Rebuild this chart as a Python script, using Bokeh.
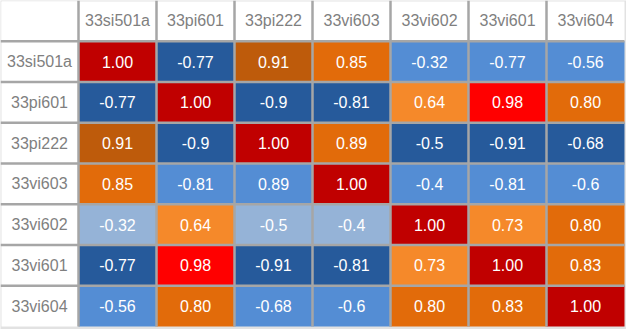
from bokeh.plotting import figure
from bokeh.models import Range1d, ColumnDataSource
from bokeh.core.properties import value
from bokeh.embed import file_html
from bokeh.resources import INLINE

labels = ["33si501a", "33pi601", "33pi222", "33vi603", "33vi602", "33vi601", "33vi604"]

corr = [
    [1.00, -0.77, 0.91, 0.85, -0.32, -0.77, -0.56],
    [-0.77, 1.00, -0.9, -0.81, 0.64, 0.98, 0.80],
    [0.91, -0.9, 1.00, 0.89, -0.5, -0.91, -0.68],
    [0.85, -0.81, 0.89, 1.00, -0.4, -0.81, -0.6],
    [-0.32, 0.64, -0.5, -0.4, 1.00, 0.73, 0.80],
    [-0.77, 0.98, -0.91, -0.81, 0.73, 1.00, 0.83],
    [-0.56, 0.80, -0.68, -0.6, 0.80, 0.83, 1.00],
]

# colour class of each cell as shown in the reference
shade = [
    ["DR", "DB", "BR", "OR", "MB", "MB", "MB"],
    ["DB", "DR", "DB", "DB", "LO", "RD", "OR"],
    ["BR", "DB", "DR", "OR", "DB", "DB", "DB"],
    ["OR", "MB", "MB", "DR", "MB", "MB", "MB"],
    ["LB", "LO", "LB", "LB", "DR", "LO", "OR"],
    ["DB", "RD", "DB", "DB", "LO", "DR", "OR"],
    ["MB", "OR", "MB", "MB", "OR", "OR", "DR"],
]

palette = {
    "DR": "#C00000",
    "RD": "#FF0000",
    "DB": "#265A9B",
    "MB": "#548DD4",
    "LB": "#95B3D7",
    "BR": "#BE5B0B",
    "OR": "#E26B0A",
    "LO": "#F5892A",
}

def fmt(v):
    s = f"{v:.2f}"
    return s if v >= 0 else s.rstrip("0")

n = len(labels)
W, H = 626, 329
cw, ch = 78.0, 40.75

p = figure(width=W, height=H, output_backend="svg", toolbar_location=None,
           x_range=Range1d(0, W / cw), y_range=Range1d(H / ch, 0),
           min_border=0)
p.axis.visible = False
p.grid.visible = False
p.outline_line_color = None
p.background_fill_color = "#E2E2E2"
p.border_fill_color = "#E2E2E2"

xs, ys, cols, txt = [], [], [], []
for i in range(n):
    for j in range(n):
        xs.append(j + 1.5)
        ys.append(i + 1.5)
        cols.append(palette[shade[i][j]])
        txt.append(fmt(corr[i][j]))
src = ColumnDataSource(dict(x=xs, y=ys, c=cols, t=txt))

# header cells (top row and left column)
hx = [j + 1.5 for j in range(n)] + [0.5] * n
hy = [0.5] * n + [i + 1.5 for i in range(n)]
ht = labels + labels
hsrc = ColumnDataSource(dict(x=hx, y=hy, t=ht))

# white header area (leaving a thin light frame at top/left)
dx, dy = 1 / cw, 1 / ch
p.quad(left=[dx, dx], right=[n + 1, 1], top=[dy, dy], bottom=[1, n + 1],
       fill_color="white", line_color=None)
p.rect(x="x", y="y", width=1, height=1, source=src, fill_color="c",
       line_color=None)

# inner grid lines
k = list(range(1, n + 1))
p.segment(x0=k, y0=[0] * n, x1=k, y1=[n + 1] * n, line_color="#A6A6A6", line_width=2.5)
p.segment(x0=[0] * n, y0=k, x1=[n + 1] * n, y1=k, line_color="#A6A6A6", line_width=2.5)

p.text(x="x", y="y", text="t", source=hsrc, text_align="center",
       text_baseline="middle", text_color="#7F7F7F", text_font_size="16px",
       text_font=value("Liberation Sans"))
p.text(x="x", y="y", text="t", source=src, text_align="center",
       text_baseline="middle", text_color="white", text_font_size="16px",
       text_font=value("Liberation Sans"))

open("out.html", "w").write(file_html(p, INLINE))
